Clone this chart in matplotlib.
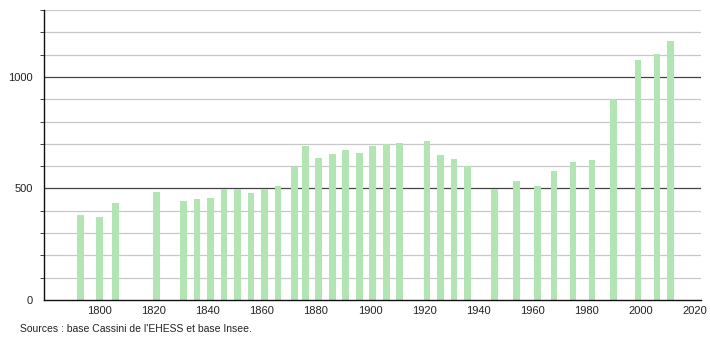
import numpy as np
import matplotlib
matplotlib.use('Agg')
import matplotlib.pyplot as plt

plt.rcParams['font.family'] = ['Liberation Sans', 'DejaVu Sans']

# Census years and population values
years = [1793, 1800, 1806, 1821, 1831, 1836, 1841, 1846, 1851, 1856,
         1861, 1866, 1872, 1876, 1881, 1886, 1891, 1896, 1901, 1906,
         1911, 1921, 1926, 1931, 1936, 1946, 1954, 1962, 1968, 1975,
         1982, 1990, 1999, 2006, 2011]
population = [382, 373, 437, 485, 445, 454, 458, 496, 496, 478,
              499, 512, 596, 689, 638, 656, 674, 657, 692, 701,
              705, 714, 648, 633, 602, 496, 534, 512, 579, 620,
              629, 903, 1078, 1105, 1163]
xticks = [1800, 1820, 1840, 1860, 1880, 1900, 1920, 1940, 1960, 1980, 2000, 2020]
yticks = [0, 500, 1000]
source = "Sources : base Cassini de l'EHESS et base Insee."

fig = plt.figure(figsize=(7.1, 3.4), dpi=100)
ax = fig.add_axes([44/710, 40/340, 657/710, 290/340])

# grid lines: light every 100, dark at 500 steps
for v in range(100, 1400, 100):
    if v % 500 == 0:
        ax.axhline(v, color='#444444', lw=0.9, zorder=1)
    else:
        ax.axhline(v, color='#c8c8c8', lw=0.9, zorder=1)

ax.bar(years, population, width=2.5, color='#b3e4b3', zorder=2)

ax.set_xlim(1779.5, 2022.3)
ax.set_ylim(0, 1300)
ax.set_xticks(xticks)
ax.set_yticks(yticks)
ax.set_yticks(range(0, 1301, 100), minor=True)
ax.tick_params(axis='x', length=0, labelsize=8, pad=4, colors='#222222')
ax.tick_params(axis='y', which='major', length=0, labelsize=8, pad=8, colors='#222222')
ax.tick_params(axis='y', which='minor', length=3, color='#222222')

for side in ['top', 'right']:
    ax.spines[side].set_visible(False)
ax.spines['left'].set_color('#111111')
ax.spines['bottom'].set_color('#111111')
ax.spines['left'].set_linewidth(1)
ax.spines['bottom'].set_linewidth(1)

fig.text(20/710, 1 - 329/340, source, fontsize=7.5, color='#222222', va='center')

fig.savefig('out.png', dpi=100)
